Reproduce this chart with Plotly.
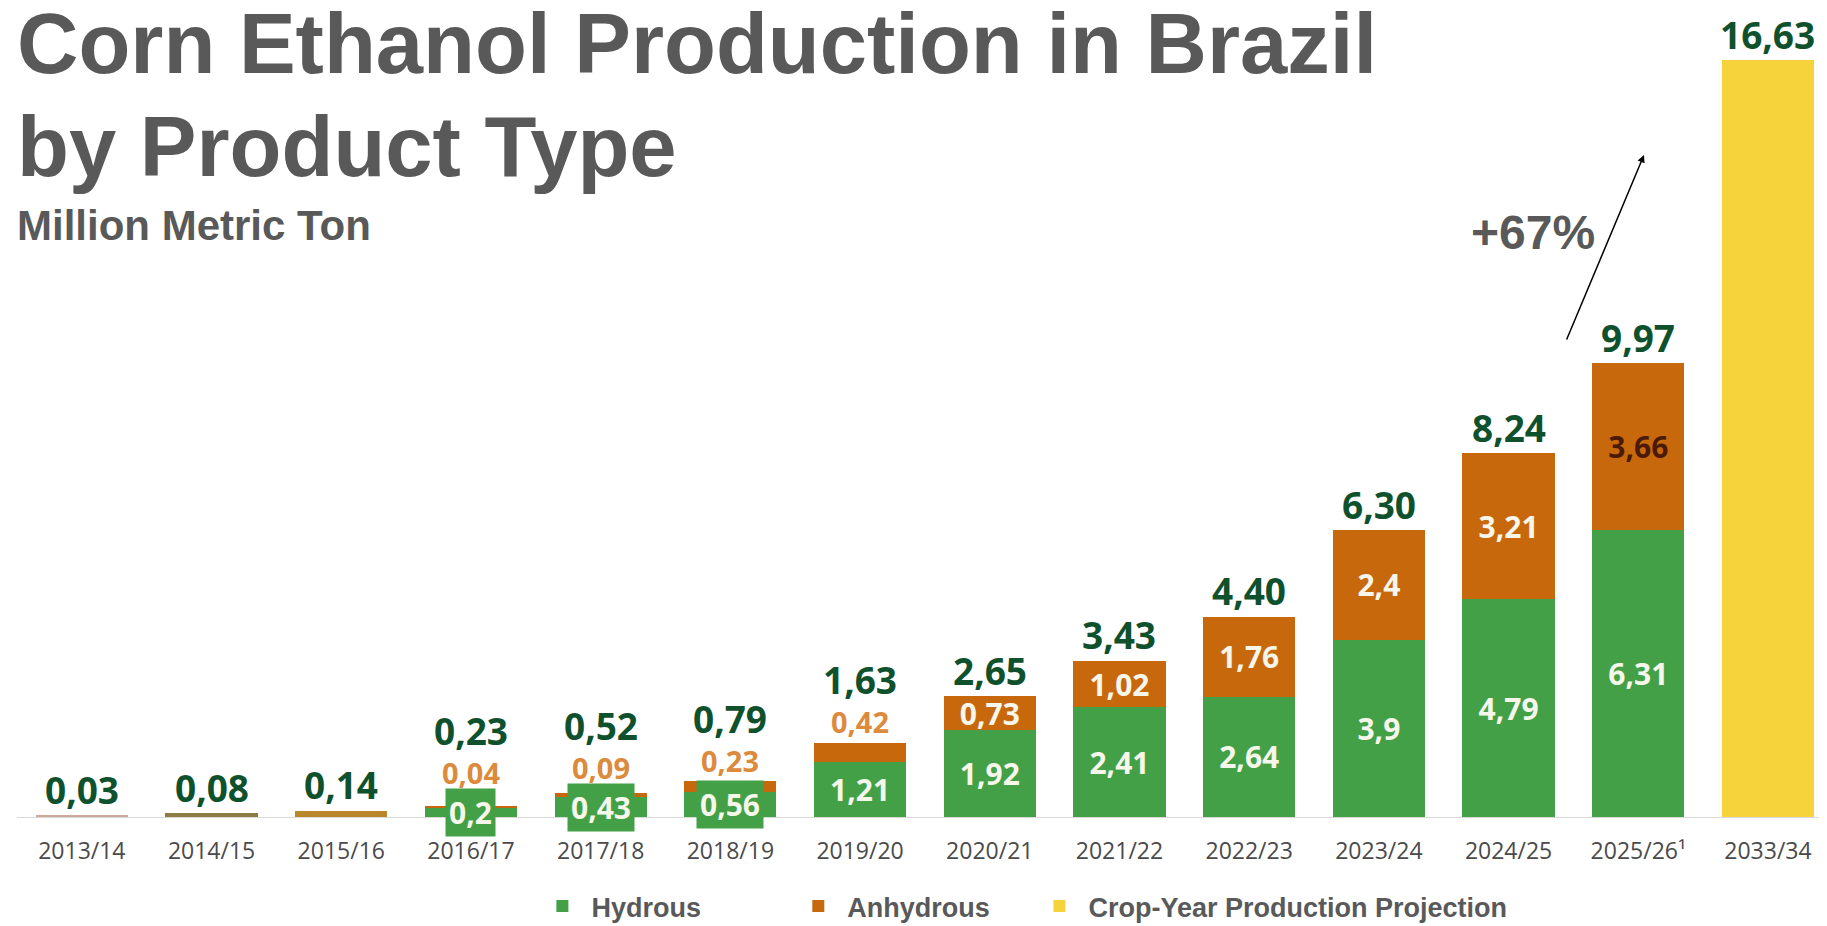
import plotly.graph_objects as go

# Datos (millones de toneladas)
seasons = ['2013/14', '2014/15', '2015/16', '2016/17', '2017/18', '2018/19',
           '2019/20', '2020/21', '2021/22', '2022/23', '2023/24', '2024/25',
           '2025/26¹', '2033/34']
hydrous = [None, None, None, 0.2, 0.43, 0.56, 1.21, 1.92, 2.41, 2.64,
           3.9, 4.79, 6.31, None]
anhydrous = [None, None, None, 0.04, 0.09, 0.23, 0.42, 0.73, 1.02, 1.76,
             2.4, 3.21, 3.66, None]
early_total = [0.03, 0.08, 0.14, None, None, None, None, None, None, None,
               None, None, None, None]
projection = [None, None, None, None, None, None, None, None, None, None,
              None, None, None, 16.63]
totals = [0.03, 0.08, 0.14, 0.23, 0.52, 0.79, 1.63, 2.65, 3.43, 4.40,
          6.30, 8.24, 9.97, 16.63]

GREEN = '#43a047'
ORANGE = '#c8680d'
YELLOW = '#f7d33b'
DARK_GREEN = '#10512d'
LIGHT_ORANGE = '#dc8a3c'
GREY = '#595959'
WHITE_TXT = '#f6f7ea'
NUM_FONT = 'Open Sans'
TXT_FONT = 'Liberation Sans, Arial'

early_colors = ['#cfa99a', '#8c7b45', '#b9862c']
anh_text_colors = [WHITE_TXT] * 12 + ['#4a1a05', WHITE_TXT]

# geometria (la pagina tiene 8px de margen en el body)
W, H = 1819, 918
M_L, M_B = 9, 109
Y_MAX = 17.78
PX = (H - M_B) / Y_MAX  # pixeles por unidad


def fmt(v):
    return f'{v:g}'.replace('.', ',')


def fmt2(v):
    return f'{v:.2f}'.replace('.', ',')


hyd_text = [fmt(v) if v is not None and v >= 1 else '' for v in hydrous]
anh_text = [fmt(v) if v is not None and v >= 0.7 else '' for v in anhydrous]

fig = go.Figure()

fig.add_trace(go.Bar(
    x=seasons, y=hydrous, name='Hydrous', marker_color=GREEN,
    legend='legend',
    text=hyd_text, textposition='inside', insidetextanchor='middle',
    textangle=0, constraintext='none',
    textfont=dict(family=NUM_FONT, size=30, color=WHITE_TXT, weight=700)))

fig.add_trace(go.Bar(
    x=seasons, y=anhydrous, name='Anhydrous', marker_color=ORANGE,
    legend='legend2',
    text=anh_text, textposition='inside', insidetextanchor='middle',
    textangle=0, constraintext='none',
    textfont=dict(family=NUM_FONT, size=30, color=anh_text_colors, weight=700)))

fig.add_trace(go.Bar(
    x=seasons, y=projection, name='Crop-Year Production Projection',
    marker_color=YELLOW, legend='legend3'))

fig.add_trace(go.Bar(
    x=seasons, y=early_total, showlegend=False,
    marker_color=early_colors + [GREEN] * 11))

fig.update_traces(marker_line_width=0, hoverinfo='skip')

# Etiquetas de valores
annotations = []
for i, s in enumerate(seasons):
    parts = [hydrous[i], anhydrous[i], early_total[i], projection[i]]
    top = sum(p for p in parts if p is not None)
    shift = 26
    box_top = 0
    if hydrous[i] is not None and hydrous[i] < 1:
        annotations.append(dict(
            x=s, y=hydrous[i] / 2, text=fmt(hydrous[i]), showarrow=False,
            bgcolor=GREEN, borderpad=3,
            font=dict(family=NUM_FONT, size=30, color=WHITE_TXT, weight=700)))
        box_top = hydrous[i] / 2 * PX + 21
    if anhydrous[i] is not None and anhydrous[i] < 0.7:
        o_shift = max(21, box_top - top * PX + 19)
        annotations.append(dict(
            x=s, y=top, text=fmt(anhydrous[i]), showarrow=False,
            yanchor='middle', yshift=o_shift,
            font=dict(family=NUM_FONT, size=29, color=LIGHT_ORANGE, weight=700)))
        shift = o_shift + 42
    annotations.append(dict(
        x=s, y=top, text=fmt2(totals[i]), showarrow=False,
        yanchor='middle', yshift=shift,
        font=dict(family=NUM_FONT, size=37, color=DARK_GREEN, weight=700)))

# Titulo
annotations += [
    dict(xref='paper', yref='paper', x=-0.0011, y=0.9556, xanchor='left',
         yanchor='middle', showarrow=False, text='Corn Ethanol Production in Brazil',
         font=dict(family=TXT_FONT, size=85, color=GREY, weight=700)),
    dict(xref='paper', yref='paper', x=-0.0011, y=0.8294, xanchor='left',
         yanchor='middle', showarrow=False, text='by Product Type',
         font=dict(family=TXT_FONT, size=85, color=GREY, weight=700)),
    dict(xref='paper', yref='paper', x=-0.0011, y=0.7311, xanchor='left',
         yanchor='middle', showarrow=False, text='Million Metric Ton',
         font=dict(family=TXT_FONT, size=42, color=GREY, weight=700)),
    # flecha de crecimiento
    dict(xref='paper', yref='paper', x=0.8989, y=0.8183, ax=-78, ay=186,
         text='', showarrow=True, arrowhead=2, arrowsize=1, arrowwidth=1.5,
         arrowcolor='black'),
    dict(xref='paper', yref='paper', x=0.8378, y=0.7219, xanchor='center',
         yanchor='middle', showarrow=False, text='+67%',
         font=dict(family=TXT_FONT, size=48, color=GREY, weight=700)),
]

legend_style = dict(orientation='h', yref='container', y=0.0212,
                    xanchor='left', yanchor='middle',
                    bgcolor='rgba(0,0,0,0)', itemwidth=48,
                    font=dict(family=TXT_FONT, size=27, color=GREY, weight=700))

fig.update_layout(
    width=W, height=H,
    barmode='stack', bargap=0.289,
    margin=dict(l=M_L, r=0, t=0, b=M_B, pad=0, autoexpand=False),
    paper_bgcolor='white', plot_bgcolor='white',
    showlegend=True,
    legend=dict(x=0.2853, **legend_style),
    legend2=dict(x=0.4267, **legend_style),
    legend3=dict(x=0.5599, **legend_style),
    annotations=annotations)

fig.update_xaxes(
    type='category', range=[-0.5, 13.455], showgrid=False, zeroline=False,
    showline=True, linecolor='#d9d9d9', linewidth=1, ticks='',
    ticklabelstandoff=13,
    tickfont=dict(family=NUM_FONT, size=23, color='#4a4a4a'))
fig.update_yaxes(range=[0, Y_MAX], visible=False)

fig.write_html('out.html')
